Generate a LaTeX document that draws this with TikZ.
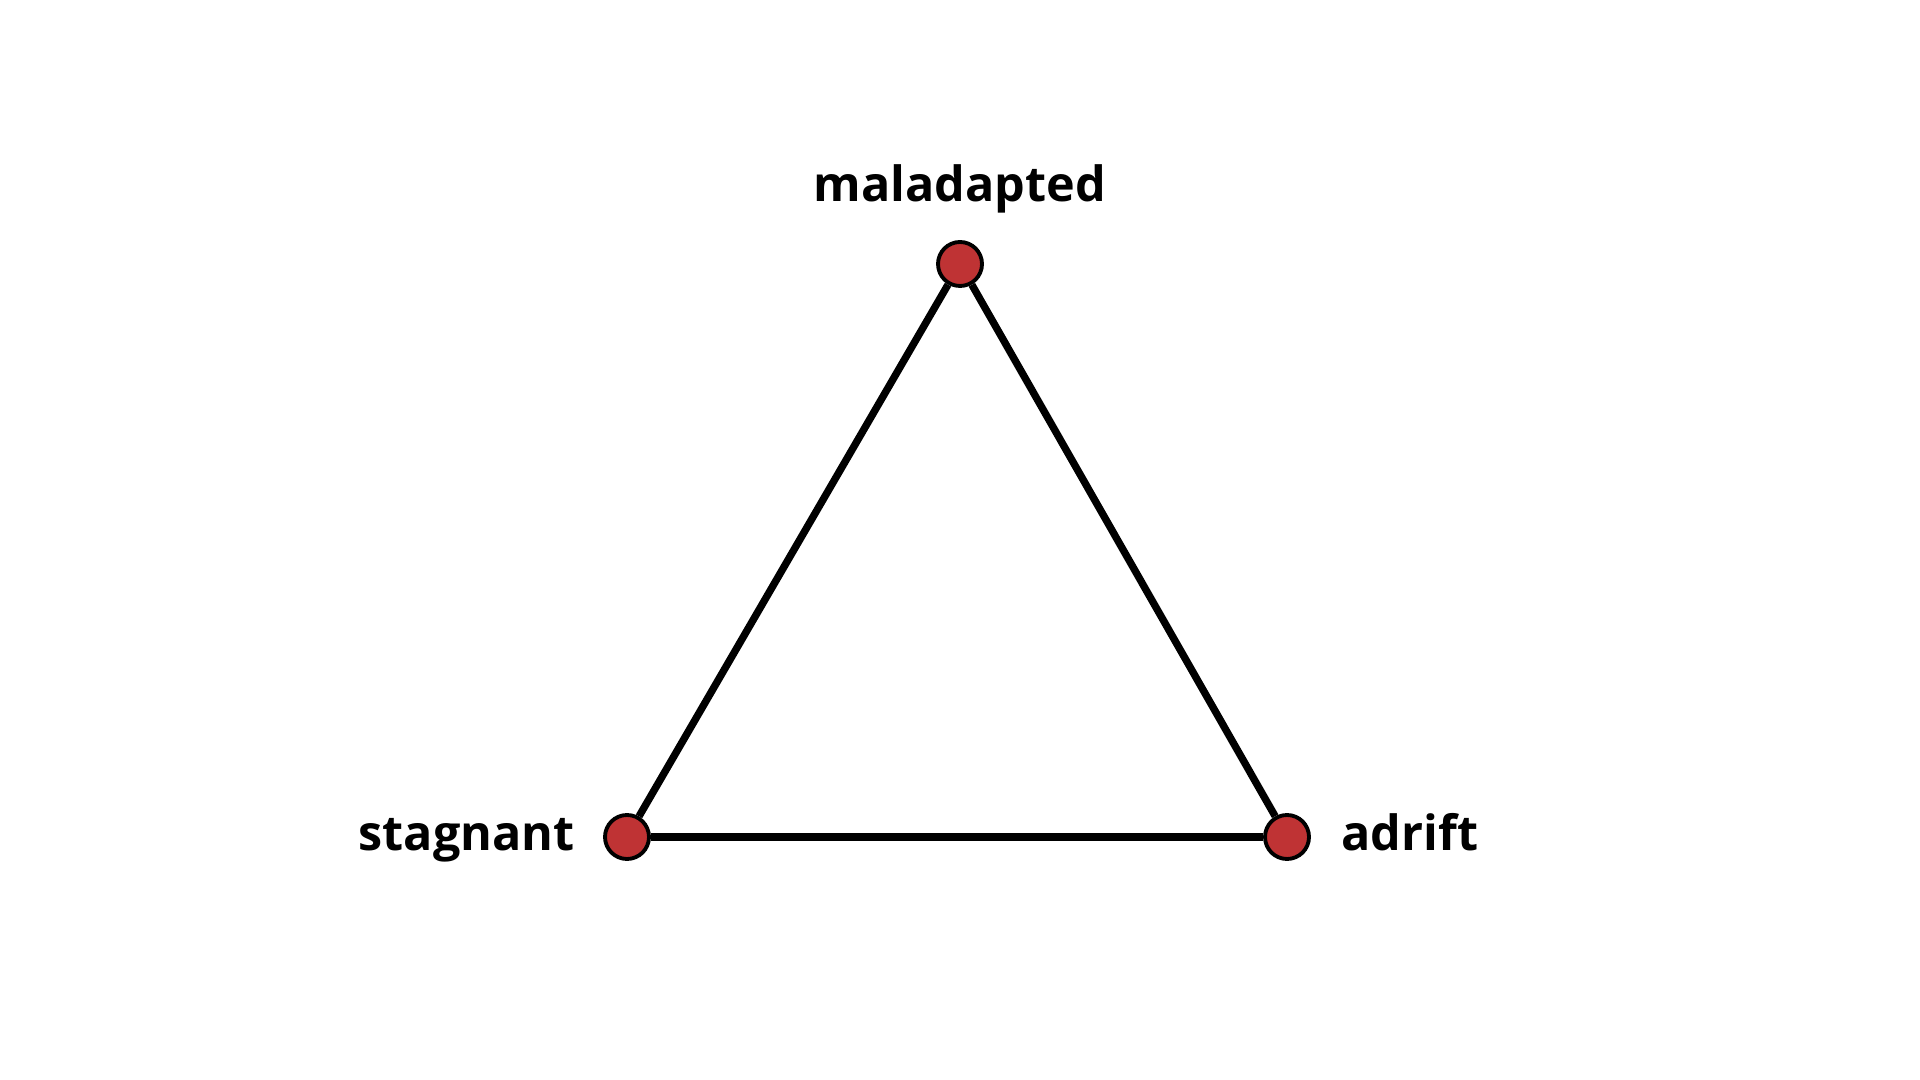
\documentclass[tikz,border=0pt]{standalone}
\usepackage{fontspec}
\setmainfont{Open Sans}
\definecolor{vertexred}{RGB}{191, 51, 52}

\begin{document}
\begin{tikzpicture}[
		vertex/.style={circle, draw=black, line width=1.1pt, fill=vertexred, minimum size=0.44cm, inner sep=0pt},
		edge/.style={line width=2.1pt},
		tag/.style={font=\fontsize{13.8}{16}\selectfont\bfseries}
	]
			\useasboundingbox (0, 0) rectangle (19.2, 10.8);
			\node[vertex] (maladapted) at (9.60, 8.16) {};
			\node[vertex] (stagnant) at (6.27, 2.43) {};
			\node[vertex] (adrift) at (12.87, 2.43) {};
			\draw[edge] (maladapted) -- (stagnant);
			\draw[edge] (maladapted) -- (adrift);
			\draw[edge] (stagnant) -- (adrift);
			\node[tag, anchor=base] (maladaptedtag) at (9.60, 8.78) {maladapted};
			\node[tag, anchor=base east] (stagnanttag) at (5.87, 2.29) {stagnant};
			\node[tag, anchor=base west] (adrifttag) at (13.29, 2.29) {adrift};
		\end{tikzpicture}
\end{document}
